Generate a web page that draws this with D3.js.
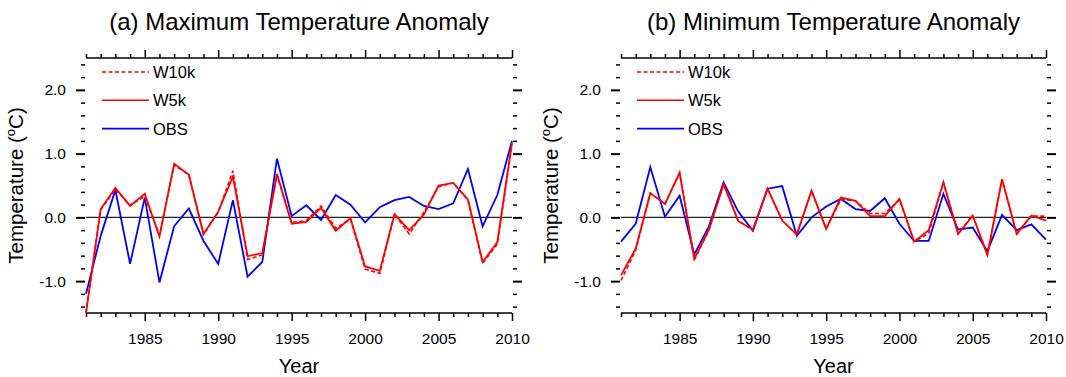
<!DOCTYPE html>
<html>
<head>
<meta charset="utf-8">
<style>
  body { margin: 0; background: #fff; }
  svg { font-family: "Liberation Sans", Arial, Helvetica, sans-serif; }
</style>
</head>
<body>
<script src="https://cdn.jsdelivr.net/npm/d3@7"></script>
<script>
// data
var years = d3.range(1981, 2011);

var maxW10k = [-1.50, 0.12, 0.44, 0.19, 0.33, -0.28, 0.82, 0.67, -0.27, 0.08,
               0.73, -0.66, -0.59, 0.67, -0.08, -0.05, 0.18, -0.17, -0.03, -0.81,
               -0.88, 0.05, -0.26, 0.08, 0.48, 0.54, 0.27, -0.72, -0.42, 1.15];
var maxW5k  = [-1.50, 0.13, 0.46, 0.18, 0.37, -0.30, 0.84, 0.67, -0.26, 0.09,
               0.64, -0.61, -0.56, 0.68, -0.10, -0.07, 0.15, -0.21, -0.01, -0.77,
               -0.84, 0.05, -0.20, 0.04, 0.50, 0.54, 0.28, -0.70, -0.39, 1.17];
var maxObs  = [-1.20, -0.29, 0.43, -0.73, 0.31, -1.02, -0.14, 0.14, -0.37, -0.73,
               0.27, -0.93, -0.70, 0.92, 0.02, 0.19, -0.04, 0.35, 0.20, -0.08,
               0.16, 0.27, 0.32, 0.18, 0.13, 0.22, 0.76, -0.14, 0.35, 1.20];

var minW10k = [-0.99, -0.52, 0.38, 0.21, 0.70, -0.67, -0.20, 0.52, -0.05, -0.20,
               0.45, -0.05, -0.27, 0.42, -0.18, 0.28, 0.26, 0.06, 0.06, 0.28,
               -0.38, -0.25, 0.55, -0.25, 0.03, -0.59, 0.60, -0.26, 0.02, 0.02];
var minW5k  = [-0.91, -0.49, 0.38, 0.21, 0.70, -0.65, -0.19, 0.52, -0.06, -0.19,
               0.45, -0.05, -0.27, 0.42, -0.18, 0.31, 0.26, 0.02, 0.02, 0.29,
               -0.38, -0.20, 0.55, -0.26, 0.03, -0.59, 0.60, -0.26, 0.03, -0.05];
var minObs  = [-0.38, -0.10, 0.79, 0.01, 0.34, -0.58, -0.14, 0.55, 0.09, -0.21,
               0.45, 0.49, -0.29, 0.00, 0.17, 0.29, 0.13, 0.10, 0.30, -0.10,
               -0.37, -0.37, 0.37, -0.19, -0.16, -0.53, 0.04, -0.20, -0.11, -0.35];

var xTickLabels = [1985, 1990, 1995, 2000, 2005, 2010];
var yTickLabels = [-1.0, 0.0, 1.0, 2.0];
var legendNames = ["W10k", "W5k", "OBS"];

var width = 1066, height = 377;
var svg = d3.select("body").append("svg")
            .attr("width", width)
            .attr("height", height);

var plotTop = 58, plotBottom = 313;

function noDomain(s) {
  s.select(".domain").remove();
  s.selectAll("line").attr("stroke-width", 1.5);
}

function panel(left, right, title, w10k, w5k, obs) {
  var x = d3.scaleLinear().domain([1981, 2010]).range([left, right]);
  var y = d3.scaleLinear().domain([-1.5, 2.5]).range([plotBottom, plotTop]);
  var g = svg.append("g");

  // title
  g.append("text")
   .attr("x", (left + right) / 2)
   .attr("y", 30)
   .attr("text-anchor", "middle")
   .attr("font-size", "24px")
   .text(title);

  // minor/major ticks: x every year, y every 0.2
  var xMinor = d3.range(1981, 2011).filter(function(d) { return d % 5 != 0; });
  var yMinor = d3.range(-14, 25, 2).map(function(d) { return d / 10; })
                 .filter(function(d) { return Math.abs(d - Math.round(d)) > 0.01; });

  var ga = g.append("g").attr("transform", "translate(0," + plotBottom + ")")
            .call(d3.axisBottom(x).tickValues(xTickLabels).tickSize(8).tickPadding(12)
                    .tickFormat(d3.format("d")))
            .call(noDomain);
  ga.selectAll("text").attr("font-size", "15.5px").attr("font-family", null);
  g.append("g").attr("transform", "translate(0," + plotBottom + ")")
   .call(d3.axisBottom(x).tickValues(xMinor).tickSize(4).tickFormat(""))
   .call(noDomain);

  g.append("g").attr("transform", "translate(0," + plotTop + ")")
   .call(d3.axisTop(x).tickValues(xTickLabels).tickSize(8).tickFormat(""))
   .call(noDomain);
  g.append("g").attr("transform", "translate(0," + plotTop + ")")
   .call(d3.axisTop(x).tickValues(xMinor).tickSize(4).tickFormat(""))
   .call(noDomain);

  var gl = g.append("g").attr("transform", "translate(" + (left - 1) + ",0)")
            .call(d3.axisLeft(y).tickValues(yTickLabels).tickSize(9).tickPadding(10)
                    .tickFormat(function(d) { return d.toFixed(1); }))
            .call(noDomain);
  gl.selectAll("text").attr("font-size", "15.5px").attr("font-family", null);
  gl.selectAll("line").attr("stroke-width", 2);
  g.append("g").attr("transform", "translate(" + (left - 1) + ",0)")
   .call(d3.axisLeft(y).tickValues(yMinor).tickSize(4).tickFormat(""))
   .call(noDomain);

  g.append("g").attr("transform", "translate(" + (right + 1) + ",0)")
   .call(d3.axisRight(y).tickValues(yTickLabels).tickSize(9).tickFormat(""))
   .call(noDomain)
   .selectAll("line").attr("stroke-width", 2);
  g.append("g").attr("transform", "translate(" + (right + 1) + ",0)")
   .call(d3.axisRight(y).tickValues(yMinor).tickSize(4).tickFormat(""))
   .call(noDomain);

  // top and bottom borders
  g.append("line").attr("x1", left).attr("x2", right).attr("y1", plotTop).attr("y2", plotTop)
   .attr("stroke", "#000").attr("stroke-width", 1.5);
  g.append("line").attr("x1", left).attr("x2", right).attr("y1", plotBottom).attr("y2", plotBottom)
   .attr("stroke", "#000").attr("stroke-width", 1.5);

  // zero line
  g.append("line").attr("x1", left).attr("x2", right).attr("y1", y(0)).attr("y2", y(0))
   .attr("stroke", "#222").attr("stroke-width", 1.2);

  // axis titles
  g.append("text")
   .attr("transform", "translate(" + (left - 63) + "," + ((plotTop + plotBottom) / 2) + ") rotate(-90)")
   .attr("text-anchor", "middle")
   .attr("font-size", "20.5px")
   .html("Temperature (<tspan dy='-8' font-size='13px'>o</tspan><tspan dy='8'>C)</tspan>");
  g.append("text")
   .attr("x", (left + right) / 2)
   .attr("y", 373)
   .attr("text-anchor", "middle")
   .attr("font-size", "20px")
   .text("Year");

  // series
  var line = d3.line()
               .x(function(d, i) { return x(years[i]); })
               .y(function(d) { return y(d); });
  var clipId = "clip" + left;
  svg.append("clipPath").attr("id", clipId).append("rect")
     .attr("x", left - 2).attr("y", plotTop).attr("width", right - left + 4).attr("height", plotBottom - plotTop);
  var lines = g.append("g").attr("clip-path", "url(#" + clipId + ")");
  lines.append("path").attr("d", line(obs)).attr("fill", "none")
       .attr("stroke", "#0000ff").attr("stroke-width", 1.8);
  lines.append("path").attr("d", line(w10k)).attr("fill", "none")
       .attr("stroke", "#ff0000").attr("stroke-width", 1.6).attr("stroke-dasharray", "4,2.5");
  lines.append("path").attr("d", line(w5k)).attr("fill", "none")
       .attr("stroke", "#ff0000").attr("stroke-width", 1.8);

  // legend
  var styles = [
    {color: "#ff0000", dash: "4,2.5"},
    {color: "#ff0000", dash: null},
    {color: "#0000ff", dash: null}
  ];
  var leg = g.selectAll(".leg").data(legendNames).enter().append("g")
             .attr("transform", function(d, i) { return "translate(" + (left + 16) + "," + (72 + i * 28.3) + ")"; });
  leg.append("line").attr("x1", 0).attr("x2", 47).attr("y1", 0).attr("y2", 0)
     .attr("stroke", function(d, i) { return styles[i].color; })
     .attr("stroke-width", 1.6)
     .attr("stroke-dasharray", function(d, i) { return styles[i].dash; });
  leg.append("text").attr("x", 51).attr("y", 6)
     .attr("font-size", "16.5px")
     .text(function(d) { return d; });
}

panel(86, 512, "(a) Maximum Temperature Anomaly", maxW10k, maxW5k, maxObs);
panel(621, 1046, "(b) Minimum Temperature Anomaly", minW10k, minW5k, minObs);
</script>
</body>
</html>
